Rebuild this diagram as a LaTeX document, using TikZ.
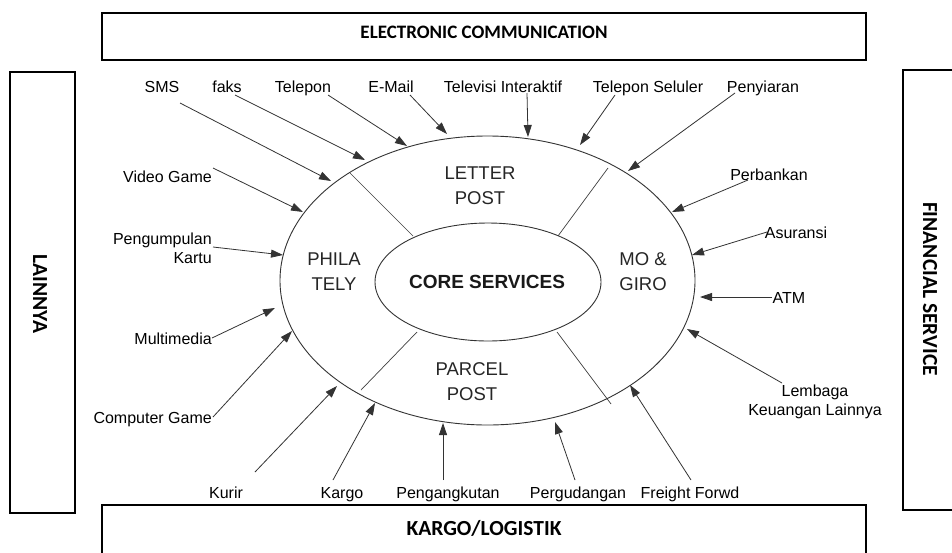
\documentclass[tikz,border=0pt]{standalone}
\usepackage{fontspec}
\setmainfont{Liberation Sans}
\newfontfamily\boxfont{Carlito}
\usetikzlibrary{arrows.meta,shapes.geometric}
\begin{document}
\begin{tikzpicture}[x=1pt,y=-1pt,
  lbl/.style={font=\fontsize{16}{19}\selectfont, inner sep=0pt, text height=11.5pt, text depth=0pt},
  lbl2/.style={font=\fontsize{16}{19}\selectfont, inner sep=0pt},
  inlbl/.style={font=\fontsize{18.5}{25}\selectfont, align=center, inner sep=0pt, text=black!85},
  ttl/.style={font=\boxfont\bfseries\fontsize{21.5}{24}\selectfont, inner sep=0pt, text height=13.8pt, text depth=0pt},
  frame/.style={draw, line width=1.6pt, inner sep=0pt},
  feed/.style={draw=black!80, line width=0.8pt, -{Triangle[length=12pt,width=8pt]}},
  ring/.style={draw=black!80, line width=0.9pt, ellipse, inner sep=0pt},
  divider/.style={draw=black!75, line width=0.7pt}]
\useasboundingbox (0,0) rectangle (952,552);
\clip (0,0) rectangle (952,552);
\fill[white] (0,0) rectangle (952,552);

% frames
\node[frame, minimum width=764pt, minimum height=47pt] (ec) at (484,36.5) {};
\node[ttl, font=\boxfont\bfseries\fontsize{19}{22}\selectfont, text height=12.2pt] (ect) at (484,32) {ELECTRONIC COMMUNICATION};
\node[frame, minimum width=65pt, minimum height=441pt] (ln) at (42.5,292.5) {};
\node[ttl, rotate=-90] (lnt) at (40,294) {LAINNYA};
\node[frame, minimum width=70pt, minimum height=440pt] (fs) at (938,290) {};
\node[ttl, rotate=-90] (fst) at (930,289) {FINANCIAL SERVICE};
\node[frame, minimum width=764pt, minimum height=60pt] (kl) at (484,535) {};
\node[ttl] (klt) at (484,529) {KARGO/LOGISTIK};

% ellipses
\node[ring, minimum width=415pt, minimum height=289pt] (outer) at (487.5,280.5) {};
\node[ring, minimum width=226pt, minimum height=118pt] (inner) at (488,282) {};

% dividers
\coordinate (d1a) at (350,173); \coordinate (d1b) at (413,236);
\coordinate (d2a) at (608,168); \coordinate (d2b) at (558,236);
\coordinate (d3a) at (417,332); \coordinate (d3b) at (361,390);
\coordinate (d4a) at (557,332); \coordinate (d4b) at (611,404);
\draw[divider] (d1a) -- (d1b);
\draw[divider] (d2a) -- (d2b);
\draw[divider] (d3a) -- (d3b);
\draw[divider] (d4a) -- (d4b);

% inner labels
\node[inlbl] (letter) at (480,186) {LETTER\\POST};
\node[inlbl] (phila) at (334,272) {PHILA\\TELY};
\node[inlbl] (mogiro) at (643,272) {MO \&\\GIRO};
\node[inlbl] (parcel) at (472,382) {PARCEL\\POST};
\node[inner sep=0pt, font=\bfseries\fontsize{19}{22}\selectfont, text=black!90] (core) at (487,282) {CORE SERVICES};

% outer labels
\node[lbl] (sms) at (162,87) {SMS};
\node[lbl] (faks) at (227,87) {faks};
\node[lbl] (tel) at (303,87) {Telepon};
\node[lbl] (email) at (391,87) {E-Mail};
\node[lbl] (tvi) at (503,87) {Televisi Interaktif};
\node[lbl] (tsel) at (648,87) {Telepon Seluler};
\node[lbl] (peny) at (763,87) {Penyiaran};
\node[lbl, anchor=east] (vg) at (212,177) {Video Game};
\node[lbl2, anchor=east, align=right] (pk) at (212,248.5) {Pengumpulan\\Kartu};
\node[lbl, anchor=east] (mm) at (212,339) {Multimedia};
\node[lbl, anchor=east] (cg) at (212,418) {Computer Game};
\node[lbl] (kurir) at (226,493) {Kurir};
\node[lbl] (kargo) at (342,493) {Kargo};
\node[lbl] (peng) at (448,493) {Pengangkutan};
\node[lbl] (perg) at (578,493) {Pergudangan};
\node[lbl] (ff) at (690,493) {Freight Forwd};
\node[lbl] (perb) at (769,175) {Perbankan};
\node[lbl] (asur) at (796,233) {Asuransi};
\node[lbl] (atm) at (789,298) {ATM};
\node[lbl2, align=center] (lemb) at (815,401.5) {Lembaga\\Keuangan Lainnya};

% arrow end points
\coordinate (sSMS) at (180,103);  \coordinate (tSMS) at (331,181);
\coordinate (sFaks) at (235,95);  \coordinate (tFaks) at (365,160);
\coordinate (sTel) at (328,95);   \coordinate (tTel) at (407,146);
\coordinate (sEm) at (410,95);    \coordinate (tEm) at (447,134);
\coordinate (sTvi) at (527,93);   \coordinate (tTvi) at (528,137);
\coordinate (sTsel) at (615,95);  \coordinate (tTsel) at (580,145);
\coordinate (sPeny) at (735,93);  \coordinate (tPeny) at (628,171);
\coordinate (sPerb) at (748,180); \coordinate (tPerb) at (672,212);
\coordinate (sAsur) at (767,232); \coordinate (tAsur) at (692,255);
\coordinate (sAtm) at (772,297);  \coordinate (tAtm) at (700,297);
\coordinate (sLemb) at (782,383); \coordinate (tLemb) at (687,329);
\coordinate (sFf) at (691,480);   \coordinate (tFf) at (630,385);
\coordinate (sPerg) at (575,480); \coordinate (tPerg) at (555,422);
\coordinate (sPeng) at (443,480); \coordinate (tPeng) at (443,423);
\coordinate (sKargo) at (333,480);\coordinate (tKargo) at (375,403);
\coordinate (sKurir) at (255,472);\coordinate (tKurir) at (337,386);
\coordinate (sCg) at (213,417);   \coordinate (tCg) at (292,331);
\coordinate (sMm) at (212,338);   \coordinate (tMm) at (275,308);
\coordinate (sPk) at (213,247);   \coordinate (tPk) at (283,255);
\coordinate (sVg) at (213,168);   \coordinate (tVg) at (303,212);

\foreach \a in {SMS,Faks,Tel,Em,Tvi,Tsel,Peny,Perb,Asur,Atm,Lemb,Ff,Perg,Peng,Kargo,Kurir,Cg,Mm,Pk,Vg}
  \draw[feed] (s\a) -- (t\a);
\end{tikzpicture}
\end{document}
